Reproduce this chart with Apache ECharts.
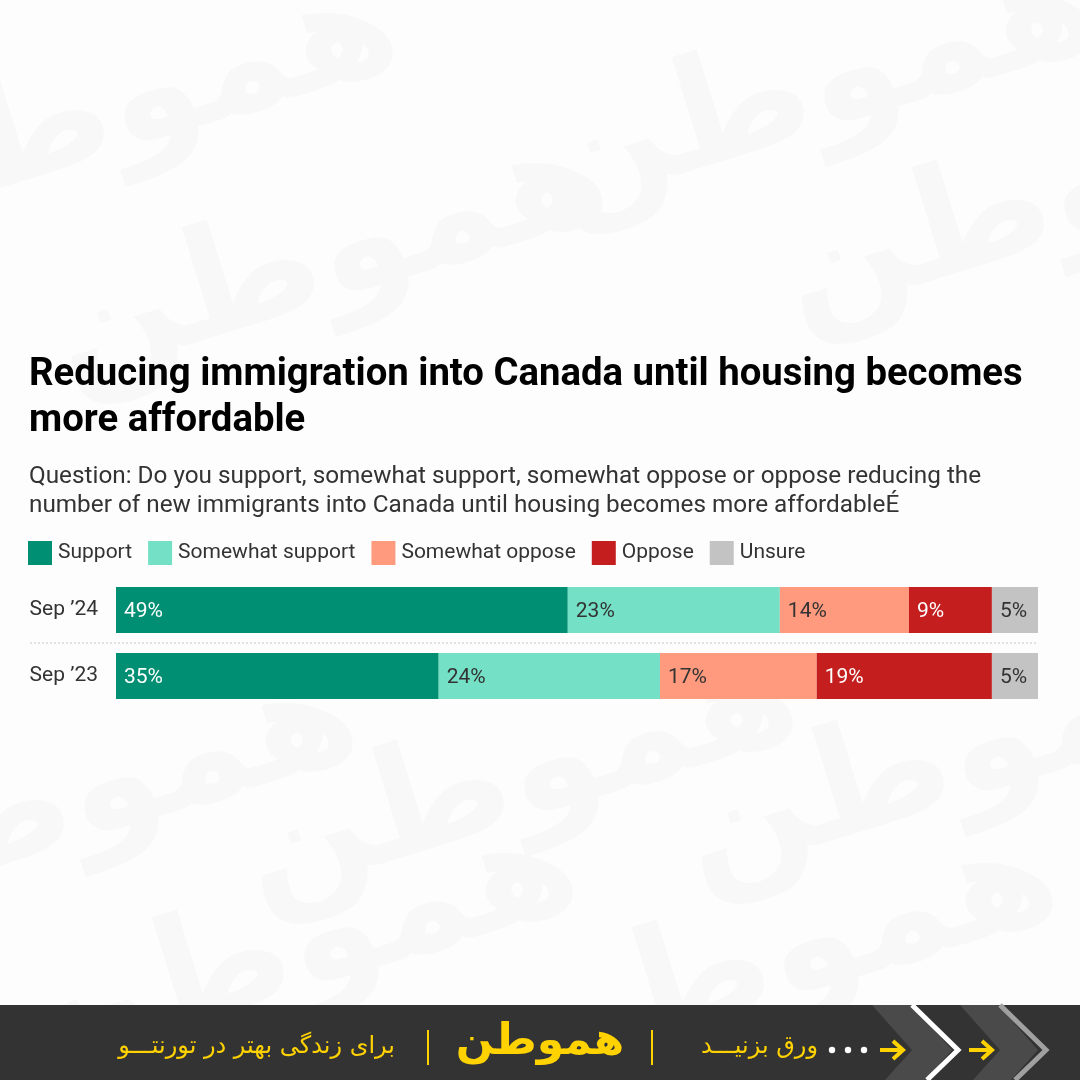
<!DOCTYPE html>
<html>
<head>
<meta charset="utf-8">
<style>
html,body{margin:0;padding:0;background:#fdfdfd;}
#chart{width:1080px;height:1080px;}
</style>
<script src="https://cdn.jsdelivr.net/npm/echarts@6/dist/echarts.min.js"></script>
</head>
<body>
<div id="chart"></div>
<script>
const categories = ['Sep \u201924', 'Sep \u201923'];
const seriesNames = ['Support', 'Somewhat support', 'Somewhat oppose', 'Oppose', 'Unsure'];
const support = [49, 35];
const somewhatSupport = [23, 24];
const somewhatOppose = [14, 17];
const oppose = [9, 19];
const unsure = [5, 5];
const seriesValues = [support, somewhatSupport, somewhatOppose, oppose, unsure];
const colors = ['#008f72', '#74e1c7', '#ff9a7e', '#c41e1e', '#c3c3c3'];
const labelColors = ['#ffffff', '#333333', '#333333', '#ffffff', '#333333'];

const chart = echarts.init(document.getElementById('chart'));
const font = 'Roboto, "Noto Sans", sans-serif';
const fa = '"DejaVu Sans", "Noto Sans", sans-serif';

const watermarks = [];
const wmPos = [[120,110],[820,90],[1060,200],[330,260],[80,800],[520,780],[960,760],[300,950],[780,960]];
wmPos.forEach(p => watermarks.push({
  type:'text', x:p[0], y:p[1], rotation: 0.3, silent:true, z:-10,
  style:{text:'\u0647\u0645\u0648\u0637\u0646', font:'bold 150px ' + fa, fill:'#f8f8f8', align:'center', verticalAlign:'middle'}
}));

const footer = [
  {type:'rect', shape:{x:0,y:1005,width:1080,height:75}, style:{fill:'#333333'}, silent:true},
  {type:'polygon', shape:{points:[[872,1005],[912,1005],[952,1050],[925,1080],[885,1080],[912,1050]]}, style:{fill:'#4a4a4a'}, silent:true},
  {type:'polyline', shape:{points:[[912,1005],[958,1050],[927,1080]]}, style:{stroke:'#ffffff', lineWidth:5, fill:null}, silent:true},
  {type:'polygon', shape:{points:[[960,1005],[998,1005],[1038,1050],[1011,1080],[973,1080],[1000,1050]]}, style:{fill:'#4a4a4a'}, silent:true},
  {type:'polyline', shape:{points:[[1000,1005],[1046,1050],[1015,1080]]}, style:{stroke:'#a0a0a0', lineWidth:5, fill:null}, silent:true},
  {type:'polyline', shape:{points:[[880,1050],[902,1050]]}, style:{stroke:'#ffd200', lineWidth:4}, silent:true},
  {type:'polyline', shape:{points:[[893,1041],[903,1050],[893,1059]]}, style:{stroke:'#ffd200', lineWidth:4, fill:null}, silent:true},
  {type:'polyline', shape:{points:[[969,1050],[991,1050]]}, style:{stroke:'#ffd200', lineWidth:4}, silent:true},
  {type:'polyline', shape:{points:[[982,1041],[992,1050],[982,1059]]}, style:{stroke:'#ffd200', lineWidth:4, fill:null}, silent:true},
  {type:'circle', shape:{cx:832,cy:1050,r:3.2}, style:{fill:'#ffffff'}, silent:true},
  {type:'circle', shape:{cx:848,cy:1050,r:3.2}, style:{fill:'#ffffff'}, silent:true},
  {type:'circle', shape:{cx:864,cy:1050,r:3.2}, style:{fill:'#ffffff'}, silent:true},
  {type:'text', x:818, y:1047, silent:true, style:{text:'\u0648\u0631\u0642 \u0628\u0632\u0646\u06cc\u0640\u0640\u0640\u062f', font:'24px ' + fa, fill:'#ffd200', align:'right', verticalAlign:'middle'}},
  {type:'rect', shape:{x:651,y:1030,width:2,height:35}, style:{fill:'#ffd200'}, silent:true},
  {type:'text', x:540, y:1043, silent:true, style:{text:'\u0647\u0645\u0648\u0637\u0646', font:'bold 44px ' + fa, fill:'#ffd200', align:'center', verticalAlign:'middle'}},
  {type:'rect', shape:{x:427,y:1030,width:2,height:35}, style:{fill:'#ffd200'}, silent:true},
  {type:'text', x:395, y:1047, silent:true, style:{text:'\u0628\u0631\u0627\u06cc \u0632\u0646\u062f\u06af\u06cc \u0628\u0647\u062a\u0631 \u062f\u0631 \u062a\u0648\u0631\u0646\u062a\u0640\u0640\u0640\u0648', font:'24px ' + fa, fill:'#ffd200', align:'right', verticalAlign:'middle'}}
];

const separator = [
  {type:'line', shape:{x1:30,y1:643,x2:1038,y2:643}, style:{stroke:'#c8c8c8', lineWidth:1, lineDash:[2,2]}, silent:true}
];

const series = seriesNames.map((name, i) => ({
  name: name,
  type: 'bar',
  stack: 'total',
  barWidth: 46,
  data: seriesValues[i],
  itemStyle: {color: colors[i]},
  emphasis: {disabled: true},
  label: {
    show: true,
    position: 'insideLeft',
    distance: 8,
    offset: [0, 2],
    formatter: '{c}%',
    color: labelColors[i],
    fontFamily: font,
    fontSize: 21,
    fontWeight: 'normal'
  }
}));

chart.setOption({
  backgroundColor: '#fdfdfd',
  animation: false,
  color: colors,
  title: [{
    text: 'Reducing immigration into Canada until housing becomes\nmore affordable',
    left: 24, top: 347,
    textStyle: {fontFamily: font, fontSize: 38.3, fontWeight: 'bold', color: '#000000', lineHeight: 46}
  }, {
    text: 'Question: Do you support, somewhat support, somewhat oppose or oppose reducing the\nnumber of new immigrants into Canada until housing becomes more affordable\u00c9',
    left: 24, top: 457,
    textStyle: {fontFamily: font, fontSize: 24.3, fontWeight: 'normal', color: '#333333', lineHeight: 29}
  }],
  legend: {
    left: 23, top: 536,
    itemWidth: 24, itemHeight: 24, itemGap: 16,
    icon: 'rect',
    selectedMode: false,
    data: seriesNames,
    textStyle: {fontFamily: font, fontSize: 21, color: '#333333', padding: [0,0,0,1]}
  },
  grid: {left: 116, right: 42, top: 577, height: 132, containLabel: false},
  xAxis: {type: 'value', min: 0, max: 100, show: false},
  yAxis: {
    type: 'category', data: categories, inverse: true,
    axisLine: {show: false}, axisTick: {show: false},
    axisLabel: {fontFamily: font, fontSize: 21, color: '#333333', margin: 18}
  },
  graphic: watermarks.concat(separator, footer),
  series: series
});
</script>
</body>
</html>
